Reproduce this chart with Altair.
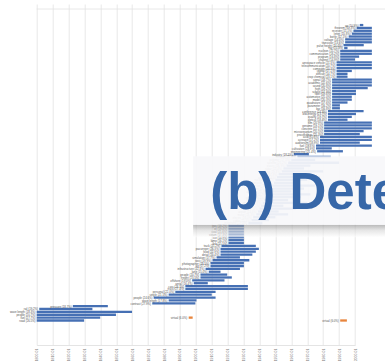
import altair as alt
import pandas as pd

# Term lifespans: one row per term, ordered top to bottom
labels = [
    "ap (10.9%)", "theorem (10.3%)", "receiver (11.1%)", "letter (10.8%)", "bottle (12.1%)",
    "voltage (14.0%)", "transistor (13.6%)", "pulse height (14.4%)", "ray (10.3%)", "nucleon (15.7%)",
    "communication (18.2%)", "program (16.8%)", "channel (14.9%)", "aerospace vehicle (21.3%)",
    "telecommunication (20.7%)", "computer (20.3%)", "capital (17.1%)", "difficult (14.7%)",
    "crop chemical (23.1%)", "signal (18.7%)", "academic (22.6%)", "sound (20.8%)", "high (19.2%)",
    "school (17.9%)", "fiber (19.6%)", "automotive (21.0%)", "model (20.3%)", "quadrature (17.6%)",
    "parameter (16.2%)", "bar (16.8%)", "conference (24.3%)", "low-energy (23.7%)", "quality (19.7%)",
    "optical (18.4%)", "film (20.9%)", "genome (19.1%)", "concrete (22.1%)", "microorganism (20.5%)",
    "proceedings (25.3%)", "acid (15.8%)", "acreage (17.2%)", "auditorium (18.9%)", "fuel (19.8%)",
    "cultivation (23.9%)", "engineering (21.4%)",
    "industry (18.1%)", "network (22.4%)", "polymer (17.5%)", "satellite (20.2%)", "plastic (16.9%)",
    "radar (15.4%)", "vaccine (19.3%)", "laser (14.8%)", "circuit (18.6%)", "nuclear (21.7%)",
    "missile (16.3%)", "rocket (17.8%)", "television (20.1%)", "antibiotic (15.9%)", "jet (14.2%)",
    "aircraft (19.5%)", "radio (16.6%)", "engine (22.8%)", "highway (15.1%)", "tractor (17.4%)",
    "airport (14.6%)", "motor (18.3%)", "electric (16.0%)", "cable (15.3%)", "telephone (17.0%)",
    "gas (18.2%)", "oil (19.4%)", "coal (21.6%)", "steam (17.3%)", "ice (14.9%)", "lamp (16.1%)",
    "fire (15.5%)",
    "track (21.2%)", "passenger (26.3%)", "food (22.9%)", "detail (20.4%)", "simulation (17.7%)",
    "toxic (19.9%)", "photographer (18.5%)", "ag (17.2%)", "infrastructure (22.3%)", "lane (15.0%)",
    "people (20.7%)", "freight (23.5%)", "offshore (19.0%)", "aerial (16.4%)", "cars (28.1%)",
    "truck (27.4%)", "personal (22.0%)", "single (21.5%)", "people (24.6%)", "wave length (17.8%)",
    "contrast (27.9%)",
    "pressure (18.7%)", "rail (19.2%)", "wave length (18.3%)", "people (20.7%)", "fuel (27.7%)",
    "road (26.5%)",
]

starts = [
    2003.0, 2001.0, 1999.0, 1998.0, 1996.0, 1993.8, 1993.8, 1992.8, 1993.2, 1990.7,
    1990.7, 1990.7, 1990.7, 1988.4, 1988.4, 1988.4, 1988.4, 1988.4, 1988.4, 1985.6,
    1985.6, 1985.6, 1985.6, 1985.6, 1985.6, 1985.6, 1985.6, 1985.6, 1985.6, 1985.6,
    1983.0, 1983.0, 1983.0, 1983.0, 1980.6, 1980.6, 1980.6, 1980.6, 1980.6, 1978.0,
    1978.0, 1978.0, 1975.5, 1975.5, 1976.2,
    1961.5, 1963.8, 1960.0, 1958.0, 1957.0, 1955.0, 1954.0, 1952.0, 1951.0, 1950.0,
    1949.0, 1948.0, 1947.0, 1946.0, 1945.0, 1944.0, 1943.0, 1942.0, 1941.0, 1940.0,
    1939.0, 1938.0, 1936.0, 1935.0, 1933.0,
    1920.5, 1920.5, 1920.5, 1920.5, 1920.5, 1920.5, 1920.5,
    1916.1, 1915.5, 1915.5, 1915.5, 1913.0, 1910.5, 1909.2, 1909.2, 1906.1, 1908.1,
    1902.9, 1902.9, 1897.7, 1898.7, 1893.4, 1893.4, 1887.1, 1882.9, 1873.5, 1882.9,
    1872.6,
    1822.7, 1801.6, 1800.0, 1800.0, 1800.0, 1800.0,
]

ends = [
    2005.2, 2010.6, 2010.6, 2010.6, 2010.6, 2010.6, 2010.6, 2005.5, 1995.3, 2010.6,
    2010.6, 2002.6, 2000.0, 2010.6, 2010.6, 2010.6, 1998.0, 1995.3, 1995.3, 2010.6,
    2010.6, 2010.6, 2008.0, 2000.6, 2000.6, 1998.0, 1998.0, 1995.3, 1990.5, 1990.5,
    2005.4, 2000.6, 1998.0, 1995.3, 2010.6, 2010.6, 2010.6, 2005.4, 2003.0, 2010.6,
    2010.6, 2003.0, 2010.6, 1985.4, 1992.4,
    1971.0, 1984.8, 1975.0, 1990.0, 1972.0, 1968.0, 1980.0, 1966.0, 1978.0, 1970.0,
    1962.0, 1975.0, 1968.0, 1960.0, 1972.0, 1966.0, 1958.0, 1970.0, 1955.0, 1963.0,
    1952.0, 1958.0, 1950.0, 1946.0, 1941.8,
    1930.2, 1930.2, 1930.2, 1930.2, 1930.2, 1930.2, 1930.2,
    1937.7, 1939.6, 1937.7, 1935.5, 1927.7, 1933.6, 1930.2, 1930.2, 1927.7, 1915.5,
    1919.7, 1922.6, 1918.0, 1907.5, 1932.7, 1932.7, 1912.4, 1910.0, 1912.4, 1900.4,
    1899.7,
    1844.7, 1835.0, 1859.9, 1849.8, 1839.9, 1829.8,
]

# Short "virtual" entries drawn in orange
virtual_labels = ["virtual (6.0%)", "virtual (6.0%)"]
virtual_rows = [102, 103]
virtual_starts = [1895.5, 1990.7]
virtual_ends = [1898.0, 1994.9]

tick_years = list(range(1800, 2001, 10))

ROW_TOP = -5.6
ROW_BOTTOM = 109.8

# Frame line along the top of the plot
frame_x = [1800.0]
frame_x2 = [2020.0]
frame_row = [ROW_TOP]

# Caption card laid over the chart
caption = "(b) Detected"
card_x = [1898.3]
card_x2 = [2030.0]
card_row = [45.7]
card_row2 = [69.6]
shadow_row2 = [74.0]
caption_x = [1909.0]
caption_row = [64.3]

terms = pd.DataFrame({
    "label": labels,
    "start": starts,
    "end": ends,
    "row": list(range(len(labels))),
})
virtual = pd.DataFrame({
    "label": virtual_labels,
    "row": virtual_rows,
    "start": virtual_starts,
    "end": virtual_ends,
})
frame = pd.DataFrame({"x": frame_x, "x2": frame_x2, "r": frame_row})
card = pd.DataFrame({"x": card_x, "x2": card_x2, "r": card_row, "r2": card_row2,
                     "s2": shadow_row2})
cap = pd.DataFrame({"x": caption_x, "r": caption_row, "text": [caption]})

xscale = alt.Scale(domain=[1800, 2000], nice=False, zero=False)
yscale = alt.Scale(domain=[ROW_BOTTOM, ROW_TOP], nice=False, zero=False)

x_axis = alt.Axis(
    values=tick_years, labelExpr="datum.value + '-01'", labelAngle=270,
    labelFontSize=3.5, labelColor="#777777", labelFont="Liberation Sans",
    labelPadding=3, ticks=False, grid=True, gridColor="#e2e2e2", gridWidth=0.8,
    domainColor="#dddddd", domainWidth=0.8, title=None, labelAlign="right",
    labelBaseline="middle", labelOverlap=False, labelBound=False,
)


def xq(field):
    return alt.X(field, scale=xscale, axis=x_axis)


def yq(field):
    return alt.Y(field, scale=yscale, axis=None)


top_line = alt.Chart(frame).mark_rule(color="#e2e2e2", strokeWidth=0.8).encode(
    x=xq("x:Q"), x2="x2:Q", y=yq("r:Q"),
)

bars = alt.Chart(terms).mark_bar(color="#4670b4", size=2.3).encode(
    x=xq("start:Q"), x2="end:Q", y=yq("row:Q"),
)

names = alt.Chart(terms).mark_text(
    align="right", baseline="middle", dx=-1.2, fontSize=2.8,
    font="Liberation Sans", color="#555555",
).encode(
    x=xq("start:Q"), y=yq("row:Q"), text="label:N",
)

vbars = alt.Chart(virtual).mark_bar(color="#e8853d", size=2.3).encode(
    x=xq("start:Q"), x2="end:Q", y=yq("row:Q"),
)
vnames = alt.Chart(virtual).mark_text(
    align="right", baseline="middle", dx=-1.5, fontSize=2.8,
    font="Liberation Sans", color="#555555",
).encode(
    x=xq("start:Q"), y=yq("row:Q"), text="label:N",
)

shadow = alt.Chart(card).mark_rect(
    color=alt.LinearGradient(
        gradient="linear", x1=0, x2=0, y1=0, y2=1,
        stops=[alt.GradientStop(color="#8a8a8a", offset=0),
               alt.GradientStop(color="#d6d6d6", offset=0.45),
               alt.GradientStop(color="#ffffff", offset=1)],
    ),
    opacity=0.6,
).encode(
    x=xq("x:Q"), x2="x2:Q", y=yq("r2:Q"), y2="s2:Q",
)

panel = alt.Chart(card).mark_rect(color="#f7f8fa", opacity=0.93).encode(
    x=xq("x:Q"), x2="x2:Q", y=yq("r:Q"), y2="r2:Q",
)

caption_text = alt.Chart(cap).mark_text(
    align="left", baseline="alphabetic", fontSize=51, fontWeight="bold",
    font="Liberation Sans", color="#3767a8",
).encode(
    x=xq("x:Q"), y=yq("r:Q"), text="text:N",
)

chart = alt.layer(
    top_line, bars, names, vbars, vnames, shadow, panel, caption_text
).properties(
    width=318.3, height=341,
    autosize=alt.AutoSizeParams(type="none"),
    padding={"left": 36.7, "top": 4, "right": 30, "bottom": 19},
    background="white",
).configure_view(stroke=None)

chart.save("out.html", embed_options={"renderer": "svg", "actions": False})
